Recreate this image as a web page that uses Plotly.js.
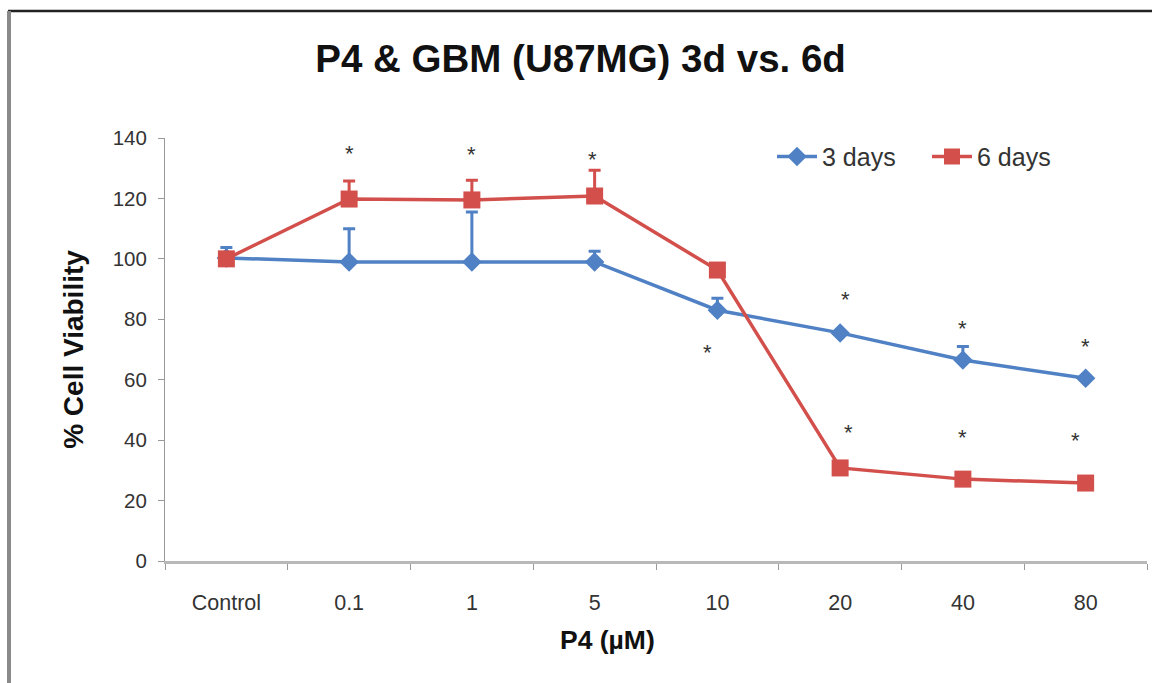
<!DOCTYPE html>
<html>
<head>
<meta charset="utf-8">
<script src="https://cdn.plot.ly/plotly-3.0.1.min.js"></script>
<style>html,body{margin:0;padding:0;background:#fff;}#chart{width:1152px;height:683px;}</style>
</head>
<body>
<div id="chart"></div>
<script>
var categories = ["Control", "0.1", "1", "5", "10", "20", "40", "80"];
var days3 = [100.3, 99, 99, 99, 83, 75.5, 66.5, 60.5];
var days3Err = [3.5, 11, 16.5, 3.5, 4, 0, 4.5, 0];
var days6 = [100, 119.8, 119.5, 120.8, 96.3, 30.8, 27.1, 25.8];
var days6Err = [0, 6, 6.5, 8.5, 0, 0, 0, 0];
var starCats = ["0.1", "1", "5", "10", "20", "20", "40", "40", "80", "80"];
var starVals = [135, 134.5, 133, 69, 86.5, 42.5, 77, 41, 71, 40];
var starShift = [0, 0, -2, -10, 5, 8, 0, 0, 0, -10];

var blue = "#4f81c4", red = "#d24f4b";
var zeros = categories.map(function(){return 0;});
var FONT = "Liberation Sans, Arial, sans-serif";

var traces = [
  {
    x: categories, y: days3, name: "3 days", type: "scatter", mode: "lines+markers",
    legend: "legend",
    line: {color: blue, width: 3.5},
    marker: {symbol: "diamond", size: 15, color: blue},
    error_y: {type: "data", symmetric: false, array: days3Err, arrayminus: zeros, color: blue, thickness: 3, width: 6}
  },
  {
    x: categories, y: days6, name: "6 days", type: "scatter", mode: "lines+markers",
    legend: "legend2",
    line: {color: red, width: 3.5},
    marker: {symbol: "square", size: 17, color: red},
    error_y: {type: "data", symmetric: false, array: days6Err, arrayminus: zeros, color: red, thickness: 3, width: 6}
  }
];

var annotations = starCats.map(function(c, i){
  return {x: categories.indexOf(c), y: starVals[i], xref: "x", yref: "y", text: "*", showarrow: false,
          xshift: starShift[i], font: {family: FONT, size: 22, color: "#333"}};
});

// frame lines (paper coordinates of a 982x423 plot at l=165, t=138)
function px(x){return (x - 165) / 982;}
function py(y){return (561 - y) / 423;}

annotations.push({
  text: "<b>P4 (µM)</b>", xref: "paper", yref: "paper", x: px(607), y: py(640),
  xanchor: "center", yanchor: "middle", showarrow: false,
  font: {family: FONT, size: 26.5, color: "#111"}
});

var shapes = [
  {type: "line", xref: "paper", yref: "paper", x0: px(8), x1: px(1152), y0: py(11), y1: py(11), line: {color: "#222", width: 2.5}},
  {type: "line", xref: "paper", yref: "paper", x0: px(9), x1: px(9), y0: py(11), y1: py(683), line: {color: "#8a8a8a", width: 4}}
];

var legendBase = {orientation: "h", y: 1.01, xanchor: "left", yanchor: "top",
                  font: {size: 25, color: "#333"}, bgcolor: "rgba(0,0,0,0)", itemwidth: 40};

var layout = {
  width: 1152, height: 683,
  margin: {l: 165, r: 5, t: 138, b: 122},
  paper_bgcolor: "#fff", plot_bgcolor: "#fff",
  font: {family: FONT, color: "#333"},
  title: {text: "<b>P4 & GBM (U87MG) 3d vs. 6d</b>", x: 0.504, xref: "container", xanchor: "center",
          y: 0.915, yref: "container", yanchor: "middle",
          font: {family: FONT, size: 38.5, color: "#111"}},
  xaxis: {
    type: "category", range: [-0.5, 7.5], tickson: "boundaries",
    showgrid: false, zeroline: false,
    showline: true, linecolor: "#b8b8b8", linewidth: 3,
    ticks: "outside", ticklen: 6, tickcolor: "#999", tickwidth: 1,
    ticklabelstandoff: 20,
    tickfont: {size: 21.5, color: "#333"}
  },
  yaxis: {
    range: [0, 140], dtick: 20, showgrid: false, zeroline: false,
    showline: true, linecolor: "#999", linewidth: 1,
    ticks: "outside", ticklen: 6, tickcolor: "#999",
    ticklabelstandoff: 7,
    tickfont: {size: 20.5, color: "#333"},
    title: {text: "<b>% Cell Viability</b>", standoff: 20, font: {size: 28, color: "#111"}}
  },
  legend: Object.assign({}, legendBase, {x: px(772)}),
  legend2: Object.assign({}, legendBase, {x: px(927)}),
  showlegend: true,
  annotations: annotations,
  shapes: shapes
};

Plotly.newPlot("chart", traces, layout, {displayModeBar: false, staticPlot: true});
</script>
</body>
</html>
